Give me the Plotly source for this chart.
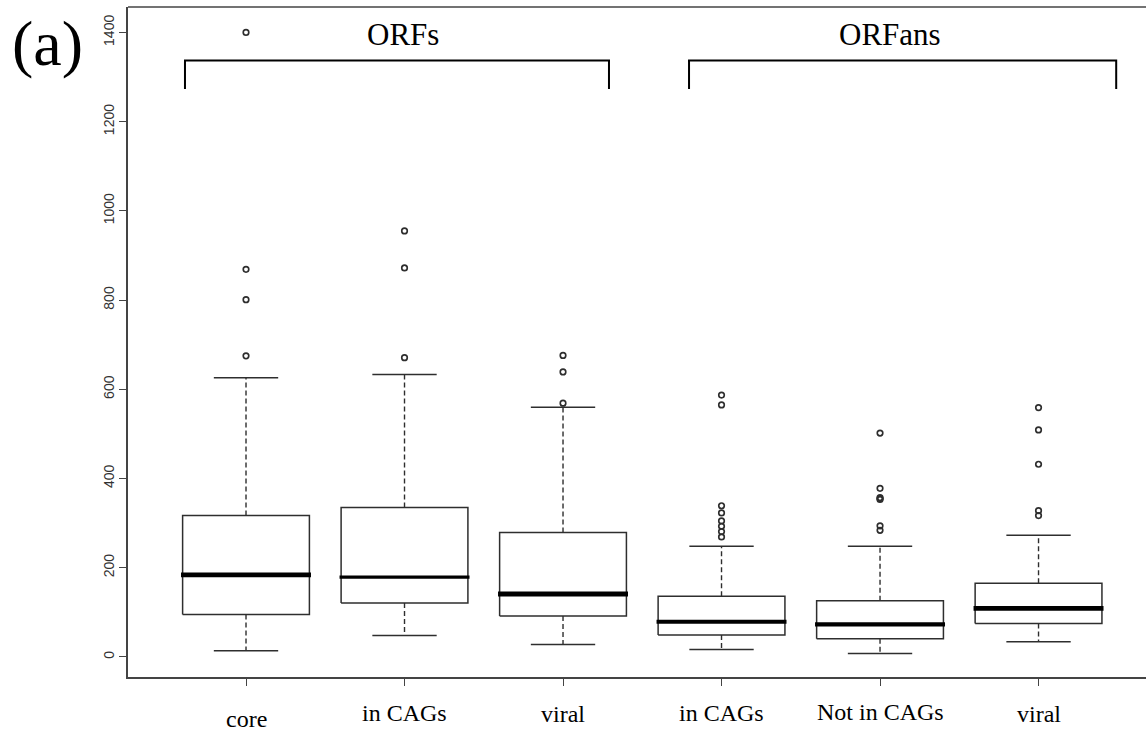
import plotly.graph_objects as go

# ---------------- data ----------------
positions = [1, 2, 3, 4, 5, 6]
labels = ["core", "in CAGs", "viral", "in CAGs", "Not in CAGs", "viral"]
lower_whisker = [14, 48, 28, 17, 8, 34]
q1 = [95, 121, 92, 49, 41, 75]
median = [184, 179, 141, 79, 73, 109]
q3 = [317, 335, 279, 136, 126, 165]
upper_whisker = [626, 633, 560, 248, 248, 273]
outliers = [
    [1400, 869, 801, 675],
    [955, 872, 671],
    [676, 639, 569],
    [587, 565, 339, 323, 305, 293, 281, 269],
    [502, 378, 357, 355, 353, 294, 284],
    [559, 509, 432, 328, 317],
]
group_labels = ["ORFs", "ORFans"]
y_ticks = [0, 200, 400, 600, 800, 1000, 1200, 1400]

# ---------------- styling ----------------
BOX_HALF = 0.40
CAP_HALF = 0.203
LINE_COL = "#2e2e2e"
median_widths = [4.7, 3.4, 5.0, 4.0, 4.3, 4.7]
label_center_px = [719, 713, 714, 713, 712, 714]  # vertical centre of x labels (px from top)
PLOT_BOTTOM_PX = 676.7

fig = go.Figure()

# boxes
bx, by = [], []
for p, a, b in zip(positions, q1, q3):
    bx += [p - BOX_HALF, p + BOX_HALF, p + BOX_HALF, p - BOX_HALF, p - BOX_HALF, None]
    by += [a, a, b, b, a, None]
fig.add_trace(go.Scatter(x=bx, y=by, mode="lines", line=dict(color=LINE_COL, width=1.5),
                         hoverinfo="skip", showlegend=False))

# whiskers (dashed)
wx, wy = [], []
for p, lo, a, b, hi in zip(positions, lower_whisker, q1, q3, upper_whisker):
    wx += [p, p, None, p, p, None]
    wy += [b, hi, None, a, lo, None]
fig.add_trace(go.Scatter(x=wx, y=wy, mode="lines",
                         line=dict(color=LINE_COL, width=1.4, dash="5px,3px"),
                         hoverinfo="skip", showlegend=False))

# caps
cx, cy = [], []
for p, lo, hi in zip(positions, lower_whisker, upper_whisker):
    cx += [p - CAP_HALF, p + CAP_HALF, None, p - CAP_HALF, p + CAP_HALF, None]
    cy += [hi, hi, None, lo, lo, None]
fig.add_trace(go.Scatter(x=cx, y=cy, mode="lines", line=dict(color=LINE_COL, width=1.5),
                         hoverinfo="skip", showlegend=False))

# medians
for p, m, w in zip(positions, median, median_widths):
    fig.add_trace(go.Scatter(x=[p - BOX_HALF - 0.01, p + BOX_HALF + 0.01], y=[m, m], mode="lines",
                             line=dict(color="black", width=w),
                             hoverinfo="skip", showlegend=False))

# outliers
ox, oy = [], []
for p, vals in zip(positions, outliers):
    ox += [p] * len(vals)
    oy += vals
fig.add_trace(go.Scatter(x=ox, y=oy, mode="markers",
                         marker=dict(symbol="circle-open", size=5.5,
                                     line=dict(color=LINE_COL, width=1.7), color=LINE_COL),
                         hoverinfo="skip", showlegend=False))

# x labels as annotations (serif, slightly different heights)
for p, lab, cpx in zip(positions, labels, label_center_px):
    fig.add_annotation(x=p, xref="x", y=0, yref="paper", yanchor="middle", xanchor="center",
                       yshift=-(cpx - PLOT_BOTTOM_PX), text=lab, showarrow=False,
                       font=dict(family="Liberation Serif", size=24, color="black"))

# group brackets
brackets = [(0.615, 3.29), (3.795, 6.49)]
for (x0, x1) in brackets:
    fig.add_shape(type="path", xref="x", yref="y",
                  path=f"M {x0},1273 L {x0},1337 L {x1},1337 L {x1},1273",
                  line=dict(color="black", width=2))
for txt, xc in zip(group_labels, [1.99, 5.06]):
    fig.add_annotation(x=xc, xref="x", y=1395, yref="y", yanchor="middle", xanchor="center",
                       text=txt, showarrow=False,
                       font=dict(family="Liberation Serif", size=31, color="black"))

# top frame line
fig.add_shape(type="line", xref="paper", yref="paper", x0=0, x1=1, y0=1, y1=1,
              line=dict(color="#444444", width=1.6))

# panel label
fig.add_annotation(x=0, y=1, xref="paper", yref="paper", text="(a)", showarrow=False,
                   xanchor="center", yanchor="middle", xshift=-128 + 47, yshift=7 - 43,
                   font=dict(family="Liberation Serif", size=64, color="black"))

fig.update_layout(
    width=1146, height=733,
    margin=dict(l=128, r=0, t=7, b=56),
    plot_bgcolor="white", paper_bgcolor="white",
    showlegend=False,
)
fig.update_xaxes(range=[0.2555, 6.678], showgrid=False, zeroline=False,
                 showline=True, linecolor="#444444", linewidth=1.6,
                 tickvals=positions, ticktext=[""] * len(positions),
                 ticks="outside", ticklen=7, tickcolor="#444444", tickwidth=1.3)
fig.update_yaxes(range=[-44.9, 1457], showgrid=False, zeroline=False,
                 showline=True, linecolor="#444444", linewidth=1.6,
                 tickvals=y_ticks, ticktext=[str(v) for v in y_ticks],
                 ticks="outside", ticklen=7, tickcolor="#444444", tickwidth=1.3,
                 tickangle=-90, ticklabelstandoff=0,
                 tickfont=dict(family="Liberation Sans", size=14, color="#333333"))

fig.write_html("out.html")
